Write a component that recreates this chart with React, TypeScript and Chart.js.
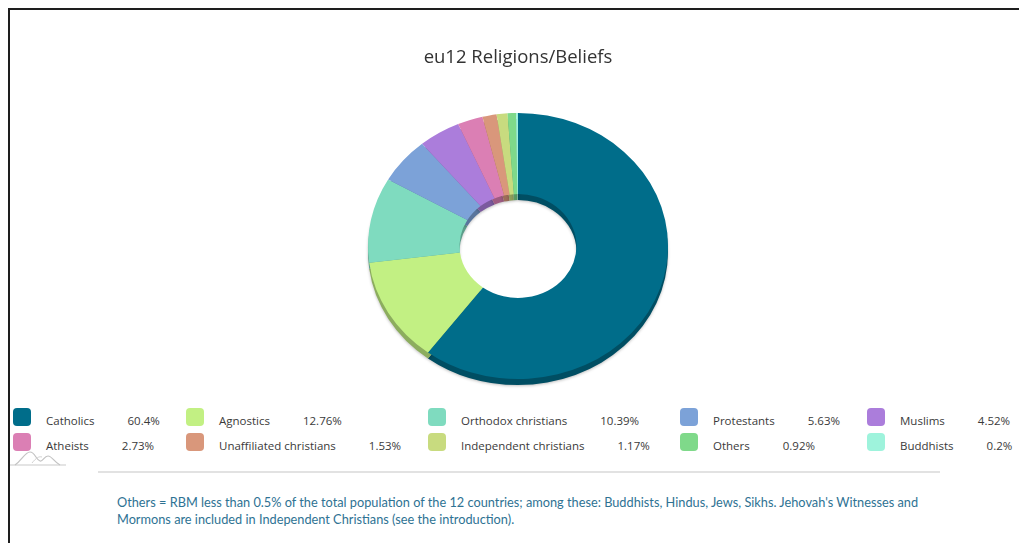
import React, { useEffect, useRef } from "react";
import { Chart, registerables } from "chart.js";

Chart.register(...registerables);

const title = "eu12 Religions/Beliefs";
const categories = [
  "Catholics",
  "Agnostics",
  "Orthodox christians",
  "Protestants",
  "Muslims",
  "Atheists",
  "Unaffiliated christians",
  "Independent christians",
  "Others",
  "Buddhists",
];
const shares = [60.4, 12.76, 10.39, 5.63, 4.52, 2.73, 1.53, 1.17, 0.92, 0.2];
const shareLabels = ["60.4%", "12.76%", "10.39%", "5.63%", "4.52%", "2.73%", "1.53%", "1.17%", "0.92%", "0.2%"];
const colors = [
  "#006d8a",
  "#c2f083",
  "#7fdbbf",
  "#7ca2d8",
  "#ab7ddb",
  "#db7fb4",
  "#d9977b",
  "#c8db7f",
  "#7fd98a",
  "#9ef3dc",
];
const footnoteLines = [
  "Others = RBM less than 0.5% of the total population of the 12 countries; among these: Buddhists, Hindus, Jews, Sikhs. Jehovah's Witnesses and",
  "Mormons are included in Independent Christians (see the introduction).",
];

const SCALE_Y = 0.887;
const DEPTH = 6;

function shade(hex: string, f: number) {
  const n = parseInt(hex.slice(1), 16);
  const r = Math.round(((n >> 16) & 255) * f);
  const g = Math.round(((n >> 8) & 255) * f);
  const b = Math.round((n & 255) * f);
  return `rgb(${r},${g},${b})`;
}

const ellipsePlugin = {
  id: "ellipse3d",
  beforeDatasetsDraw(chart: any) {
    const meta = chart.getDatasetMeta(0);
    const ctx = chart.ctx as CanvasRenderingContext2D;
    const first = meta.data[0];
    const cx = first.x;
    const cy = first.y;
    ctx.save();
    ctx.translate(cx, cy);
    ctx.scale(1, SCALE_Y);
    ctx.translate(-cx, -cy);
    ctx.save();
    ctx.translate(0, DEPTH / SCALE_Y);
    ctx.shadowColor = "rgba(0,0,0,0.25)";
    ctx.shadowBlur = 3;
    ctx.shadowOffsetY = 1;
    meta.data.forEach((arc: any, i: number) => {
      const p = arc.getProps(["x", "y", "startAngle", "endAngle", "innerRadius", "outerRadius"], true);
      ctx.beginPath();
      ctx.arc(p.x, p.y, p.outerRadius, p.startAngle, p.endAngle);
      ctx.arc(p.x, p.y, p.innerRadius, p.endAngle, p.startAngle, true);
      ctx.closePath();
      ctx.fillStyle = shade(colors[i], 0.72);
      ctx.fill();
    });
    ctx.restore();
  },
  afterDatasetsDraw(chart: any) {
    chart.ctx.restore();
  },
};

export default function App() {
  const canvasRef = useRef<HTMLCanvasElement | null>(null);

  useEffect(() => {
    if (!canvasRef.current) return;
    const chart = new Chart(canvasRef.current, {
      type: "doughnut",
      data: {
        labels: categories,
        datasets: [
          {
            data: shares,
            backgroundColor: colors,
            borderWidth: 0,
          },
        ],
      },
      options: {
        animation: false,
        responsive: false,
        maintainAspectRatio: false,
        cutout: "39%",
        layout: { padding: { left: 17, right: 0, top: 0, bottom: 0 } },
        plugins: {
          legend: { display: false },
          tooltip: { enabled: false },
          title: {
            display: true,
            text: title,
            color: "#333333",
            font: { family: "'Open Sans', sans-serif", size: 18.5, weight: "normal" },
            padding: { top: 9, bottom: 26.8 },
          },
        },
      },
      plugins: [ellipsePlugin],
    } as any);
    return () => chart.destroy();
  }, []);

  const labelFont = "'Open Sans', sans-serif";

  return (
    <div
      style={{
        position: "absolute",
        left: 0,
        top: 0,
        width: 1019,
        height: 543,
        overflow: "hidden",
        background: "#ffffff",
      }}
    >
      <div
        style={{
          position: "absolute",
          left: 8,
          top: 8,
          width: 1100,
          height: 700,
          borderTop: "2px solid #1e1e1e",
          borderLeft: "2px solid #1e1e1e",
          boxSizing: "border-box",
        }}
      />
      <canvas
        ref={canvasRef}
        width={1019}
        height={358}
        style={{ position: "absolute", left: 0, top: 38, width: 1019, height: 358 }}
      />
      <div
        style={{
          position: "absolute",
          left: 13,
          top: 408,
          display: "grid",
          gridTemplateColumns: "173px 242px 252px 187px 160px",
          gridAutoRows: "25px",
          fontFamily: labelFont,
          fontSize: 11.5,
          color: "#3a3a3a",
        }}
      >
        {categories.map((c, i) => (
          <div key={c} style={{ display: "flex", alignItems: "flex-start", whiteSpace: "nowrap" }}>
            <div
              style={{
                width: 18,
                height: 18,
                borderRadius: 4,
                background: colors[i],
                flex: "none",
              }}
            />
            <span style={{ marginLeft: 15, marginTop: 6, lineHeight: "14px" }}>{c}</span>
            <span style={{ marginLeft: 33, marginTop: 6, lineHeight: "14px" }}>{shareLabels[i]}</span>
          </div>
        ))}
      </div>
      <svg
        style={{ position: "absolute", left: 8, top: 448 }}
        width={62}
        height={22}
        viewBox="0 0 62 22"
      >
        <path d="M2 17 H58" stroke="#c9c9c9" strokeWidth={1.2} fill="none" />
        <path
          d="M7 17 C14 12 17 4 22 4 C27 4 28 12 32 13 C35 14 36 8 40 8 C44 8 46 14 52 17"
          stroke="#c3c3c3"
          strokeWidth={1.2}
          fill="none"
        />
        <path d="M24 15 C28 10 31 8 34 9" stroke="#d2d2d2" strokeWidth={1} fill="none" />
      </svg>
      <div
        style={{
          position: "absolute",
          left: 98,
          top: 471,
          width: 842,
          height: 2,
          background: "#e2e2e2",
        }}
      />
      <div
        style={{
          position: "absolute",
          left: 117,
          top: 494,
          fontFamily: "Lato, sans-serif",
          fontSize: 12.75,
          lineHeight: "17px",
          color: "#2e7293",
          whiteSpace: "nowrap",
        }}
      >
        {footnoteLines.map((l) => (
          <div key={l}>{l}</div>
        ))}
      </div>
    </div>
  );
}
